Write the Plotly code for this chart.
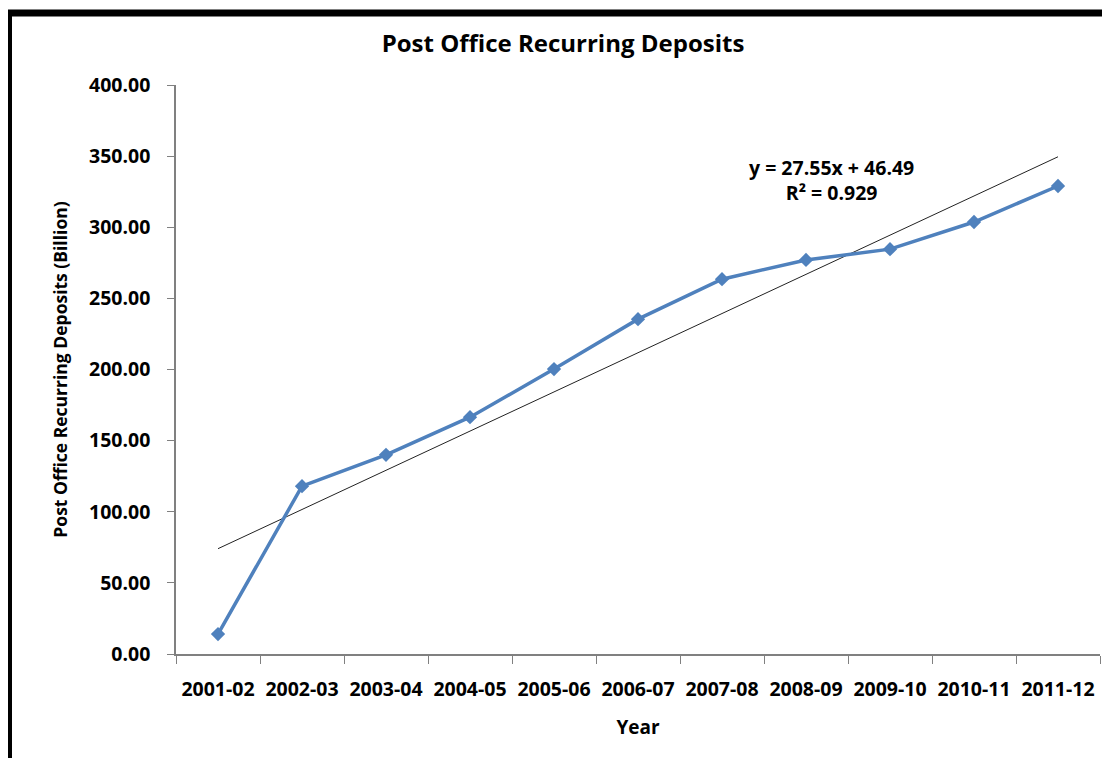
import plotly.graph_objects as go

years = ["2001-02", "2002-03", "2003-04", "2004-05", "2005-06", "2006-07",
         "2007-08", "2008-09", "2009-10", "2010-11", "2011-12"]
deposits = [14.0, 118.0, 140.0, 166.5, 200.3, 235.4, 263.5, 277.0, 284.6, 303.7, 329.0]
trend_slope = 27.55
trend_intercept = 46.49
trend_r2 = 0.929
y_ticks = [0, 50, 100, 150, 200, 250, 300, 350, 400]

FONT = "Open Sans"
OFF = 8  # page body margin
W, H = 1110 - OFF, 758 - OFF
L, R, T, B = 176 - OFF, 10, 85 - OFF, 104
pw, ph = W - L - R, H - T - B

def px(sx):
    return (sx - OFF - L) / pw

def py(sy):
    return (H - B - (sy - OFF)) / ph

trend_vals = [trend_slope * (i + 1) + trend_intercept for i in range(len(years))]

fig = go.Figure()
fig.add_trace(go.Scatter(
    x=years, y=trend_vals, mode="lines",
    line=dict(color="#222222", width=1), hoverinfo="skip", showlegend=False))
fig.add_trace(go.Scatter(
    x=years, y=deposits, mode="lines+markers",
    line=dict(color="#4F81BD", width=3.5),
    marker=dict(symbol="diamond", size=11, color="#4F81BD"),
    showlegend=False))

fig.update_layout(
    width=W, height=H,
    margin=dict(l=L, r=R, t=T, b=B),
    paper_bgcolor="white", plot_bgcolor="white",
    font=dict(family=FONT, color="black", weight="bold"),
    title=dict(text="Post Office Recurring Deposits", x=(563 - OFF) / W, xanchor="center",
               y=1 - (44 - OFF) / H, yanchor="middle",
               font=dict(family=FONT, size=24, weight="bold", color="black")),
    xaxis=dict(type="category", range=[-0.5, len(years) - 0.5],
               showline=True, linecolor="#808080", linewidth=1.5,
               ticks="outside", tickson="boundaries", ticklen=8, tickcolor="#808080",
               tickfont=dict(family=FONT, size=19.5, weight="bold", color="black"),
               ticklabelstandoff=17,
               showgrid=False, zeroline=False,
               title=dict(text="Year", standoff=20,
                          font=dict(family=FONT, size=19, weight="bold", color="black"))),
    yaxis=dict(range=[0, 400], tickvals=y_ticks,
               ticktext=[f"{v:.2f}" for v in y_ticks],
               showline=True, linecolor="#808080", linewidth=1.5,
               ticks="outside", ticklen=7, tickcolor="#808080",
               tickfont=dict(family=FONT, size=19.5, weight="bold", color="black"),
               ticklabelstandoff=13,
               showgrid=False, zeroline=False,
               title=dict(text="Post Office Recurring Deposits (Billion)", standoff=17,
                          font=dict(family=FONT, size=17.5, weight="bold", color="black"))),
    annotations=[
        dict(text=f"y = {trend_slope}x + {trend_intercept}<br>R\u00b2 = {trend_r2}",
             xref="paper", yref="paper", x=px(831), y=py(180),
             xanchor="center", yanchor="middle", showarrow=False, align="center",
             font=dict(family=FONT, size=19.5, weight="bold", color="black")),
    ],
    shapes=[
        dict(type="rect", xref="paper", yref="paper",
             x0=px(8.5), x1=px(1130), y0=py(13), y1=py(790),
             line=dict(color="black", width=7), fillcolor="rgba(0,0,0,0)", layer="above"),
    ],
)

fig.write_html("out.html")
